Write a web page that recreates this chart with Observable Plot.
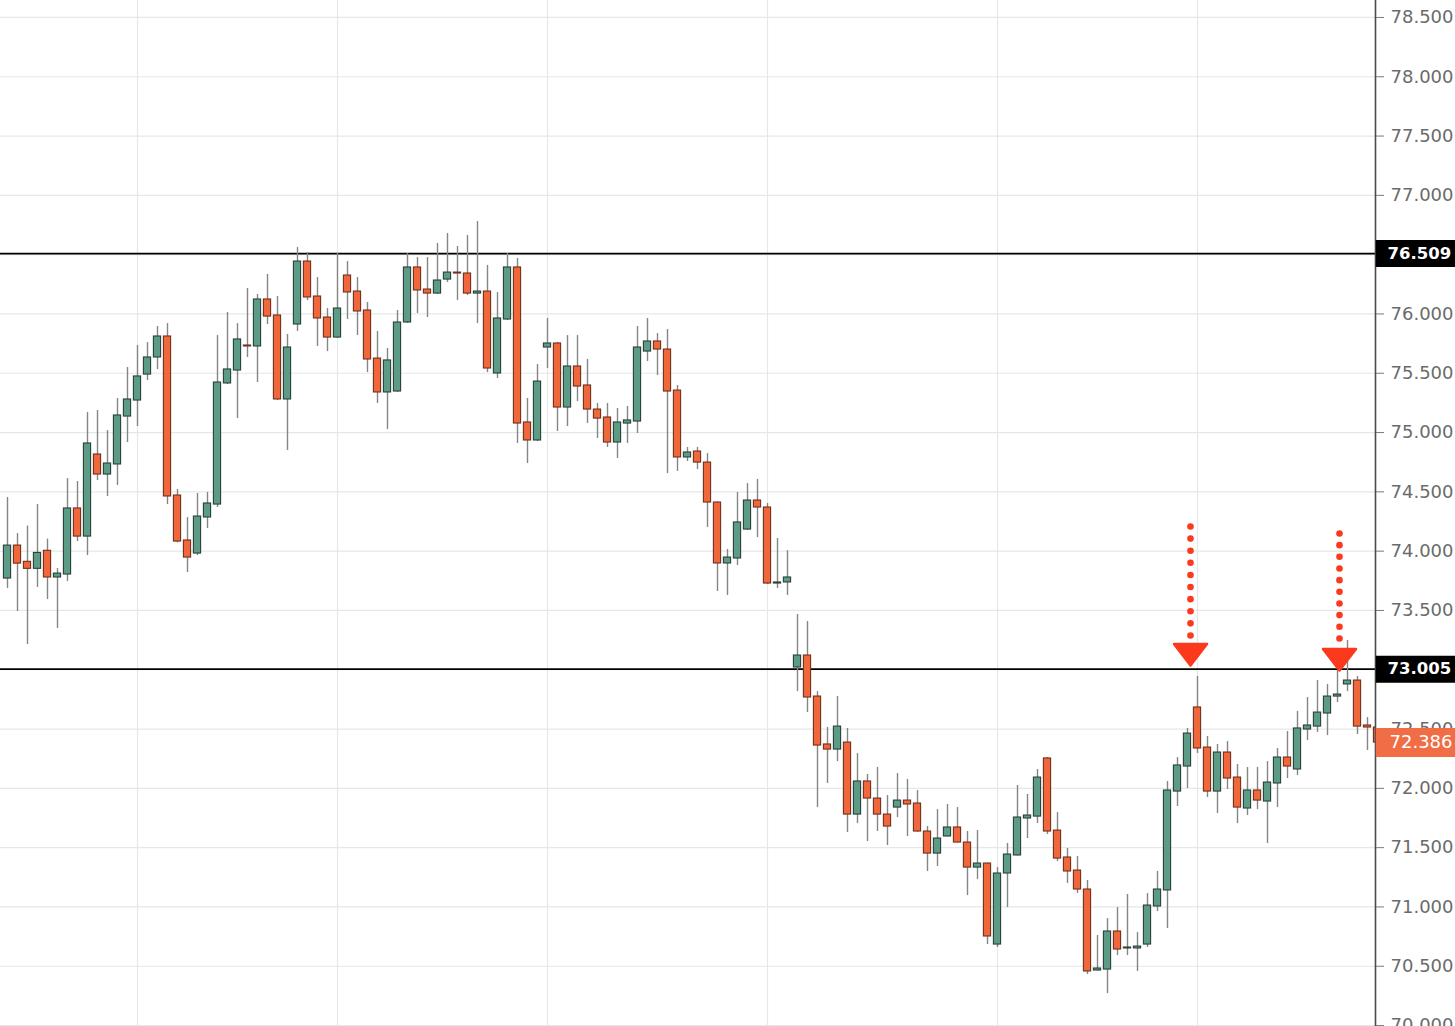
<!DOCTYPE html>
<html>
<head>
<meta charset="utf-8">
<script src="https://cdn.jsdelivr.net/npm/d3@7"></script>
<script src="https://cdn.jsdelivr.net/npm/@observablehq/plot@0.6"></script>
<style>
  html, body { margin: 0; padding: 0; background: #ffffff; }
  svg { display: block; }
</style>
</head>
<body>
<div id="chart"></div>
<script>
// ---- data ----
const opens = [73.769,74.047,73.910,73.851,74.003,73.778,73.803,74.360,74.123,74.815,
74.646,74.731,75.135,75.270,75.489,75.633,75.810,74.469,74.090,73.980,
74.284,74.393,75.414,75.523,75.734,75.726,76.122,75.987,75.279,75.911,
76.442,76.147,75.970,75.801,76.324,76.189,76.029,75.624,75.338,75.346,
75.928,76.392,76.206,76.172,76.290,76.349,76.341,76.172,76.189,75.498,
75.953,76.392,75.085,74.933,75.717,75.751,75.211,75.557,75.397,75.194,
75.127,74.916,75.076,75.093,75.683,75.768,75.700,75.354,74.790,74.840,
74.747,74.410,73.896,73.938,74.182,74.427,74.368,73.727,73.736,73.019,
73.120,72.774,72.370,72.327,72.386,71.779,72.058,71.914,71.779,71.838,
71.897,71.872,71.636,71.450,71.594,71.670,71.543,71.332,71.366,70.683,
71.282,71.434,71.746,71.762,72.252,71.644,71.417,71.307,71.147,70.464,
70.472,70.793,70.650,70.650,70.683,71.004,71.139,71.973,72.184,72.682,
72.344,71.973,72.302,72.091,71.830,71.982,71.889,72.041,72.260,72.159,
72.496,72.521,72.631,72.774,72.876,72.909,72.530,72.513];
const highs = [74.452,74.148,74.212,74.393,74.102,73.853,74.612,74.587,75.169,75.186,
75.017,75.287,75.549,75.734,75.759,75.894,75.919,74.520,74.284,74.486,
74.495,75.818,76.012,75.919,76.215,76.164,76.333,76.147,75.827,76.560,
76.518,76.307,76.046,76.510,76.442,76.307,76.097,75.852,75.709,76.029,
76.510,76.476,76.476,76.594,76.678,76.569,76.662,76.779,76.409,76.181,
76.510,76.468,75.287,75.574,75.962,75.760,75.818,75.818,75.616,75.245,
75.245,75.203,75.220,75.894,75.962,75.835,75.869,75.397,74.874,74.874,
74.823,74.415,74.014,74.495,74.570,74.604,74.402,74.107,74.003,73.466,
73.407,72.816,72.513,72.774,72.505,72.294,72.117,72.176,71.940,72.125,
72.075,71.982,71.678,71.821,71.864,71.838,71.636,71.644,71.370,71.332,
71.535,72.024,71.948,72.159,72.260,71.796,71.493,71.425,71.223,70.759,
70.902,70.995,71.105,70.784,71.113,71.299,72.058,72.260,72.505,72.943,
72.437,72.370,72.395,72.201,72.176,72.176,72.226,72.336,72.479,72.648,
72.766,72.909,72.876,72.994,73.247,72.943,72.597,72.530];
const lows = [73.685,73.491,73.213,73.694,73.592,73.348,73.744,74.081,73.963,74.596,
74.461,74.554,74.916,75.051,75.439,75.532,74.393,74.070,73.820,73.963,
74.191,74.368,75.405,75.118,75.633,75.422,75.911,75.270,74.849,75.852,
76.113,75.726,75.683,75.795,75.953,75.818,75.506,75.245,75.026,75.340,
75.920,76.004,75.970,76.165,76.265,76.113,76.156,75.919,75.506,75.456,
75.945,74.908,74.739,74.925,75.540,75.009,75.051,75.262,75.076,74.950,
74.874,74.781,74.908,74.992,75.599,75.481,74.655,74.672,74.756,74.688,
74.199,73.660,73.626,73.879,74.175,74.115,73.720,73.685,73.626,72.816,
72.639,71.838,72.041,72.226,71.628,71.703,71.552,71.636,71.518,71.754,
71.594,71.630,71.299,71.341,71.590,71.540,71.096,71.231,70.683,70.658,
70.995,71.430,71.577,71.703,71.611,71.383,71.198,71.113,70.430,70.460,
70.270,70.590,70.590,70.456,70.658,70.961,70.818,71.847,71.999,72.294,
71.923,71.788,71.990,71.703,71.771,71.821,71.535,71.838,72.083,72.108,
72.403,72.471,72.445,72.724,72.816,72.454,72.319,72.370];
const closes = [74.047,73.895,73.851,73.985,73.778,73.811,74.360,74.123,74.908,74.646,
74.739,75.144,75.279,75.473,75.633,75.810,74.461,74.081,73.946,74.292,
74.402,75.422,75.532,75.785,75.726,76.122,75.978,75.279,75.717,76.442,
76.139,75.962,75.801,76.046,76.181,76.021,75.616,75.338,75.608,75.928,
76.392,76.198,76.172,76.282,76.349,76.341,76.172,76.189,75.540,75.962,
76.392,75.076,74.933,75.430,75.751,75.211,75.557,75.388,75.194,75.118,
74.916,75.085,75.102,75.717,75.768,75.700,75.346,74.790,74.832,74.747,
74.410,73.896,73.946,74.242,74.427,74.368,73.727,73.736,73.778,73.120,
72.766,72.361,72.327,72.521,71.779,72.058,71.914,71.779,71.678,71.897,
71.864,71.636,71.450,71.577,71.670,71.543,71.332,71.366,70.751,71.282,
71.442,71.754,71.771,72.091,71.636,71.408,71.299,71.147,70.456,70.481,
70.793,70.641,70.658,70.666,71.012,71.147,71.982,72.193,72.462,72.336,
71.973,72.302,72.083,71.838,71.982,71.897,72.049,72.260,72.184,72.505,
72.530,72.639,72.774,72.791,72.909,72.521,72.513,72.386];

// month separators (candle index) and price axis ticks
const monthBreaks = [13, 33, 54, 76, 99, 119];
const yTicks = [70.0, 70.5, 71.0, 71.5, 72.0, 72.5, 73.0, 73.5, 74.0, 74.5, 75.0, 75.5, 76.0, 76.5, 77.0, 77.5, 78.0, 78.5];
// horizontal levels
const levels = [76.509, 73.005];
const lastPrice = 72.386;
// arrow annotations: candle position, tip price, dotted shaft from/to price
const arrowX = [118.3, 133.2];
const arrowTip = [73.036, 72.994];
const arrowTop = [74.208, 74.149];
const arrowBottom = [73.289, 73.264];

// ---- build table ----
const candles = opens.map((o, i) => ({i, open: o, high: highs[i], low: lows[i], close: closes[i], up: closes[i] >= o}));
const arrows = arrowX.map((x, k) => ({x, tip: arrowTip[k], top: arrowTop[k], bottom: arrowBottom[k]}));
const arrowDots = arrows.flatMap(a => d3.range(10).map(j => ({x: a.x, y: a.top + (a.bottom - a.top) * j / 9})));

const GREEN = "#5c9b86", GREEN_S = "#2b4139";
const RED = "#f0673b", RED_S = "#70301c";
const ARROW = "#fb3a1d";
const xMax = 136.8;

// tick labels hidden under the level boxes are not shown (as in the reference)
const hiddenLabels = levels.map(v => Math.round(v * 2) / 2);

const downTriangle = {
  draw(ctx) {
    ctx.moveTo(-16.5, -21.5);
    ctx.lineTo(16.5, -21.5);
    ctx.lineTo(0, 0);
    ctx.closePath();
  }
};

const chart = Plot.plot({
  width: 1455,
  height: 1026,
  marginLeft: 0,
  marginRight: 80,
  marginTop: 0,
  marginBottom: 0,
  style: {fontFamily: "DejaVu Sans, sans-serif", background: "#ffffff", overflow: "visible"},
  x: {domain: [-0.7, xMax], axis: null},
  y: {domain: [69.992, 78.643], axis: null},
  marks: [
    Plot.ruleY(yTicks, {stroke: "#e6e7ea", strokeWidth: 1.2}),
    Plot.ruleX(monthBreaks, {stroke: "#e6e7ea", strokeWidth: 1.2}),
    Plot.ruleY(levels, {stroke: "#000000", strokeWidth: 1.6}),
    Plot.ruleX(candles, {x: "i", y1: "low", y2: "high", stroke: "#858585", strokeWidth: 1.4, clip: true}),
    Plot.rect(candles, {
      x1: d => d.i - 0.36, x2: d => d.i + 0.36, y1: "open", y2: "close",
      fill: d => d.up ? GREEN : RED,
      stroke: d => d.up ? GREEN_S : RED_S,
      strokeWidth: 1.1,
      clip: true
    }),
    Plot.dot(arrowDots, {x: "x", y: "y", r: 3.3, fill: ARROW}),
    Plot.dot(arrows, {x: "x", y: "tip", symbol: downTriangle, fill: ARROW, stroke: ARROW, strokeWidth: 2.5, strokeLinejoin: "round"}),
    Plot.ruleX([xMax], {stroke: "#4a4a4a", strokeWidth: 1.6}),
    Plot.axisY(yTicks, {
      anchor: "right",
      tickFormat: d => hiddenLabels.includes(d) ? "" : d.toFixed(3),
      tickSize: 8,
      tickPadding: 7,
      fontSize: 18,
      stroke: "#7a7a7a",
      fill: "#6b6b6b",
      label: null
    }),
    Plot.ruleY(levels, {x1: xMax + 0.08, x2: xMax + 8.2, stroke: "#000000", strokeWidth: 27}),
    Plot.text(levels, {x: xMax, y: d => d, text: d => d.toFixed(3), dx: 12, textAnchor: "start", fill: "#ffffff", fontWeight: "bold", fontSize: 16.5}),
    Plot.ruleY([lastPrice], {x1: xMax + 0.08, x2: xMax + 8.2, stroke: "#f06d45", strokeWidth: 29}),
    Plot.text([lastPrice], {x: xMax, y: d => d, text: d => d.toFixed(3), dx: 14, textAnchor: "start", fill: "#ffffff", fontSize: 18})
  ]
});
document.getElementById("chart").appendChild(chart);
</script>
</body>
</html>
